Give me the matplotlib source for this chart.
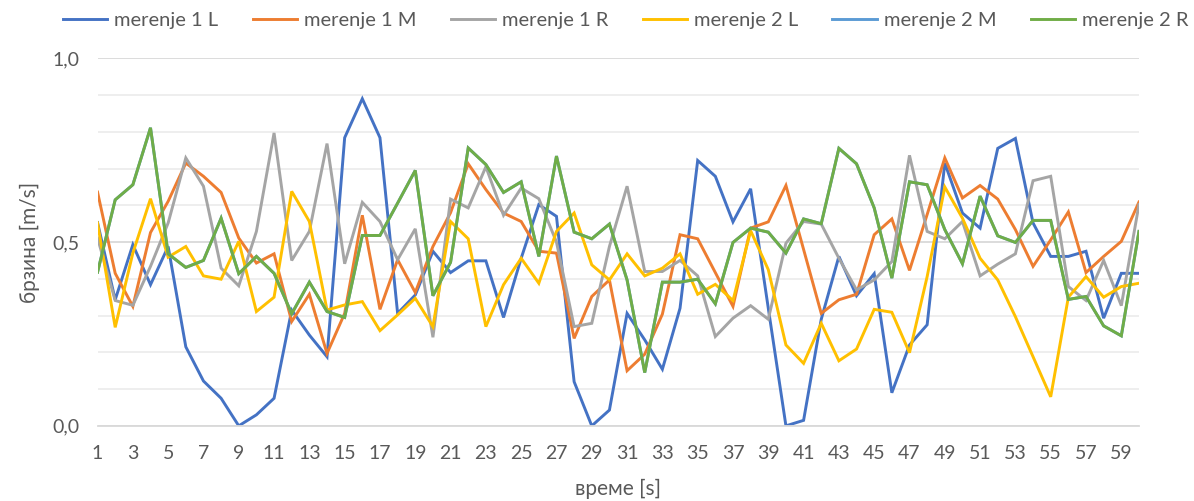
import numpy as np
import matplotlib
matplotlib.use("Agg")
import matplotlib.pyplot as plt
from matplotlib.ticker import MultipleLocator, FixedLocator, FuncFormatter

plt.rcParams['font.family'] = ['Lato', 'DejaVu Sans']

# time axis [s]
t = list(range(1, 61))

series_names = ["merenje 1 L", "merenje 1 M", "merenje 1 R",
                "merenje 2 L", "merenje 2 M", "merenje 2 R"]

m1_L = [0.553, 0.343, 0.493, 0.384, 0.488, 0.215, 0.122, 0.075, 0.0, 0.03,
        0.075, 0.315, 0.247, 0.188, 0.784, 0.89, 0.784, 0.306, 0.356, 0.475,
        0.417, 0.449, 0.449, 0.295, 0.456, 0.602, 0.57, 0.12, 0.0, 0.043,
        0.306, 0.234, 0.154, 0.32, 0.722, 0.679, 0.555, 0.645, 0.32, 0.0,
        0.015, 0.29, 0.461, 0.354, 0.414, 0.09, 0.22, 0.275, 0.715, 0.579,
        0.538, 0.755, 0.782, 0.552, 0.461, 0.461, 0.475, 0.293, 0.415, 0.415]

m1_M = [0.636, 0.415, 0.325, 0.526, 0.611, 0.715, 0.679, 0.635, 0.511, 0.443,
        0.468, 0.284, 0.358, 0.197, 0.306, 0.573, 0.317, 0.452, 0.363, 0.488,
        0.58, 0.713, 0.643, 0.579, 0.556, 0.475, 0.47, 0.238, 0.352, 0.397,
        0.15, 0.195, 0.304, 0.52, 0.509, 0.417, 0.325, 0.538, 0.555, 0.654,
        0.48, 0.306, 0.343, 0.358, 0.52, 0.563, 0.423, 0.575, 0.729, 0.62,
        0.654, 0.617, 0.534, 0.434, 0.506, 0.582, 0.417, 0.461, 0.502, 0.609]

m1_R = [0.511, 0.341, 0.328, 0.434, 0.552, 0.729, 0.652, 0.429, 0.381, 0.529,
        0.797, 0.45, 0.529, 0.768, 0.441, 0.608, 0.556, 0.452, 0.536, 0.241,
        0.617, 0.593, 0.705, 0.573, 0.647, 0.618, 0.5, 0.27, 0.279, 0.488,
        0.652, 0.42, 0.42, 0.45, 0.408, 0.243, 0.293, 0.327, 0.29, 0.497,
        0.556, 0.549, 0.456, 0.37, 0.397, 0.447, 0.736, 0.529, 0.509, 0.556,
        0.408, 0.44, 0.468, 0.667, 0.679, 0.379, 0.341, 0.45, 0.327, 0.602]

m2_L = [0.552, 0.268, 0.47, 0.618, 0.459, 0.488, 0.408, 0.399, 0.502, 0.311,
        0.35, 0.638, 0.556, 0.315, 0.329, 0.338, 0.259, 0.302, 0.347, 0.27,
        0.556, 0.509, 0.27, 0.384, 0.456, 0.388, 0.529, 0.579, 0.438, 0.397,
        0.468, 0.408, 0.429, 0.468, 0.358, 0.385, 0.341, 0.531, 0.425, 0.22,
        0.17, 0.279, 0.177, 0.209, 0.317, 0.309, 0.199, 0.406, 0.65, 0.565,
        0.456, 0.397, 0.297, 0.188, 0.079, 0.35, 0.406, 0.35, 0.379, 0.388]

m2_M = [0.418, 0.615, 0.656, 0.811, 0.468, 0.431, 0.45, 0.565, 0.414, 0.461,
        0.415, 0.305, 0.391, 0.311, 0.295, 0.518, 0.518, 0.606, 0.695, 0.354,
        0.445, 0.756, 0.711, 0.635, 0.664, 0.461, 0.734, 0.527, 0.509, 0.549,
        0.397, 0.145, 0.391, 0.391, 0.399, 0.332, 0.499, 0.538, 0.527, 0.47,
        0.563, 0.55, 0.755, 0.713, 0.593, 0.402, 0.664, 0.656, 0.534, 0.441,
        0.625, 0.517, 0.499, 0.559, 0.559, 0.344, 0.352, 0.272, 0.245, 0.529]

m2_R = [0.418, 0.615, 0.656, 0.811, 0.468, 0.431, 0.45, 0.565, 0.414, 0.461,
        0.415, 0.305, 0.391, 0.311, 0.295, 0.518, 0.518, 0.606, 0.695, 0.354,
        0.445, 0.756, 0.711, 0.635, 0.664, 0.461, 0.734, 0.527, 0.509, 0.549,
        0.397, 0.145, 0.391, 0.391, 0.399, 0.332, 0.499, 0.538, 0.527, 0.47,
        0.563, 0.55, 0.755, 0.713, 0.593, 0.402, 0.664, 0.656, 0.534, 0.441,
        0.625, 0.517, 0.499, 0.559, 0.559, 0.344, 0.352, 0.272, 0.245, 0.529]

x_tick_labels = [str(v) for v in range(1, 61, 2)]

colors = ["#4472C4", "#ED7D31", "#A5A5A5", "#FFC000", "#5B9BD5", "#70AD47"]
text_color = "#595959"

fig = plt.figure(figsize=(11.94, 5.01), dpi=100)
ax = fig.add_axes([0.0817, 0.150, 0.8722, 0.7336])

for name, vals, c in zip(series_names, [m1_L, m1_M, m1_R, m2_L, m2_M, m2_R], colors):
    ax.plot(t, vals, color=c, lw=2.1, label=name, solid_joinstyle='miter')

ax.set_xlim(1, 60)
ax.set_ylim(0, 1.0)

# gridlines: light minor every 0.1, slightly darker at labelled values
ax.yaxis.set_major_locator(MultipleLocator(0.5))
ax.yaxis.set_minor_locator(MultipleLocator(0.1))
ax.grid(which='minor', axis='y', color='#EBEBEB', lw=1.2)
ax.grid(which='major', axis='y', color='#D9D9D9', lw=1.3)
ax.set_axisbelow(True)
ax.yaxis.set_major_formatter(FuncFormatter(lambda v, p: f"{v:.1f}".replace('.', ',')))

ax.xaxis.set_major_locator(FixedLocator(list(range(1, 61, 2))))
ax.set_xticklabels(x_tick_labels)

for s in ['top', 'right', 'left']:
    ax.spines[s].set_visible(False)
ax.spines['bottom'].set_color('#D9D9D9')
ax.spines['bottom'].set_linewidth(1.3)

ax.tick_params(axis='both', which='both', length=0, labelsize=14, colors=text_color)
ax.tick_params(axis='x', pad=14)
ax.tick_params(axis='y', pad=13)

ax.set_xlabel("време [s]", fontsize=15, color=text_color, labelpad=12)
ax.set_ylabel("брзина [m/s]", fontsize=15, color=text_color, labelpad=9)

leg = fig.legend(loc='upper center', bbox_to_anchor=(0.524, 1.012), ncol=6,
                 frameon=False, fontsize=14.5, handlelength=2.2,
                 columnspacing=1.7, handletextpad=0.35)
for txt in leg.get_texts():
    txt.set_color(text_color)

fig.savefig("out.png", dpi=100)
